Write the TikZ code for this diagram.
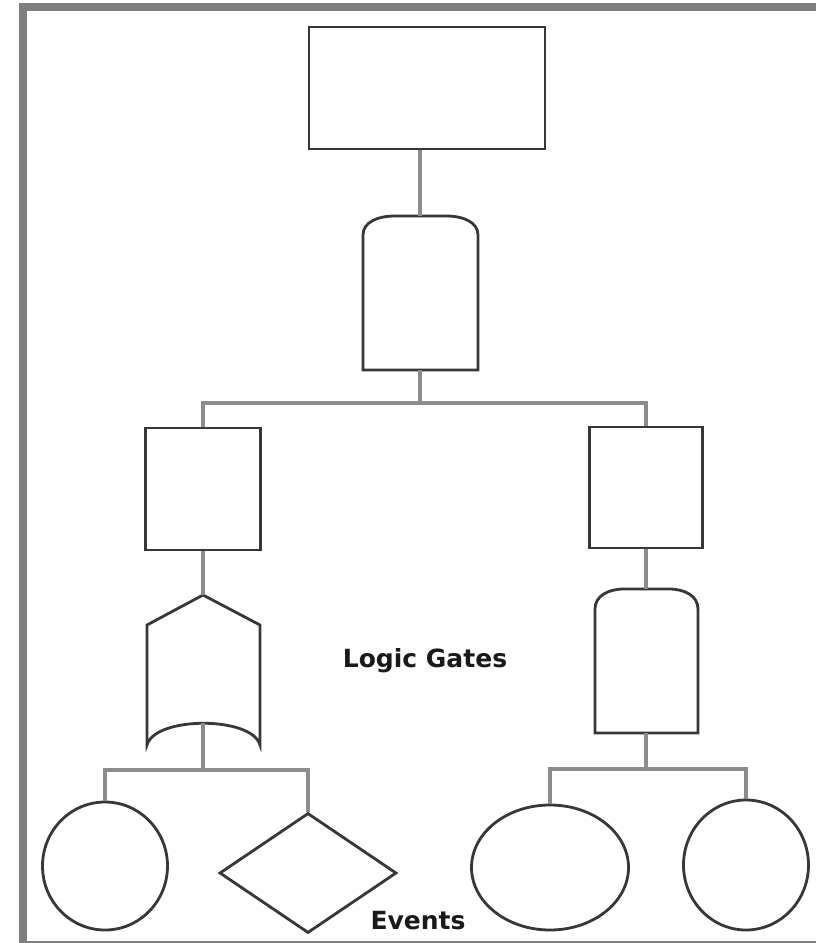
\documentclass[tikz,border=0pt]{standalone}
\usepackage{fontspec}
\setsansfont{DejaVu Sans}
\definecolor{FrameColor}{RGB}{128,128,128}
\definecolor{LinkColor}{RGB}{140,140,140}
\definecolor{ShapeColor}{RGB}{55,55,55}
\usepackage{tikz}
\usetikzlibrary{positioning, shapes.geometric}
\tikzstyle{link} = [line width=3.2pt, LinkColor]
\tikzstyle{gate} = [line width=2.8pt, ShapeColor, fill=white]
\tikzset{
  box/.style={rectangle, draw=ShapeColor, fill=white, line width=2.8pt, inner sep=0pt},
  event/.style={ellipse, draw=ShapeColor, fill=white, line width=2.8pt, inner sep=0pt},
  house/.style={diamond, draw=ShapeColor, fill=white, line width=2.8pt, inner sep=0pt, minimum width=177pt, minimum height=120pt},
  caption/.style={font=\sffamily\bfseries\fontsize{25}{30}\selectfont, text=black!90, anchor=base}
}

\begin{document}
\begin{tikzpicture}[x=1pt, y=-1pt]
  \useasboundingbox (0,0) rectangle (815,943);
  \fill[white] (0,0) rectangle (815,943);

  % Frame
  \draw[line width=8pt, FrameColor] (830,7) -| (23,944.5) -- (830,944.5);

  % Top event
  \node[box, minimum width=236pt, minimum height=122pt] (top) at (427,88) {};

  % AND gate (top)
  \coordinate (and1in) at (420,216);
  \coordinate (and1out) at (420,370);
  \draw[gate] (363,370) -- (363,235) .. controls (363,222) and (378,216) .. (395,216)
    -- (446,216) .. controls (463,216) and (478,222) .. (478,235) -- (478,370) -- cycle;

  % Intermediate events
  \node[box, minimum width=115pt, minimum height=122pt] (left) at (203,489) {};
  \node[box, minimum width=113pt, minimum height=121pt] (right) at (646,487.5) {};

  % OR gate
  \coordinate (or1in) at (203,595);
  \coordinate (or1out) at (203,723);
  \draw[gate] (147,745) -- (147,625) -- (203,595) -- (260,625) -- (260,745)
    .. controls (252,716) and (155,716) .. (147,745) -- cycle;

  % AND gate (right)
  \coordinate (and2in) at (646,589);
  \coordinate (and2out) at (646,733);
  \draw[gate] (595,733) -- (595,609) .. controls (595,596) and (608,589) .. (624,589)
    -- (669,589) .. controls (685,589) and (698,596) .. (698,609) -- (698,733) -- cycle;

  % Basic events
  \node[event, minimum width=125pt, minimum height=128pt] (ev1) at (105,866) {};
  \node[house] (ev2) at (308,873) {};
  \node[event, minimum width=157pt, minimum height=125pt] (ev3) at (550,867.5) {};
  \node[event, minimum width=125pt, minimum height=130pt] (ev4) at (746,865) {};

  % Connectors
  \coordinate (bar1) at (420,403);
  \coordinate (bar2) at (203,770);
  \coordinate (bar3) at (646,769);
  \draw[link] (and1in) -- (and1in |- top.south);
  \draw[link] (and1out) -- (bar1);
  \draw[link] (left.north) |- (bar1) -| (right.north);
  \draw[link] (left.south) -- (or1in);
  \draw[link] (right.south) -- (and2in);
  \draw[link] (or1out) -- (bar2);
  \draw[link] (ev1) |- (bar2) -| (ev2);
  \draw[link] (and2out) -- (bar3);
  \draw[link] (ev3) |- (bar3) -| (ev4);

  % Labels
  \node[caption] (gates) at (425,667) {Logic Gates};
  \node[caption] (events) at (418,929) {Events};
\end{tikzpicture}
\end{document}
